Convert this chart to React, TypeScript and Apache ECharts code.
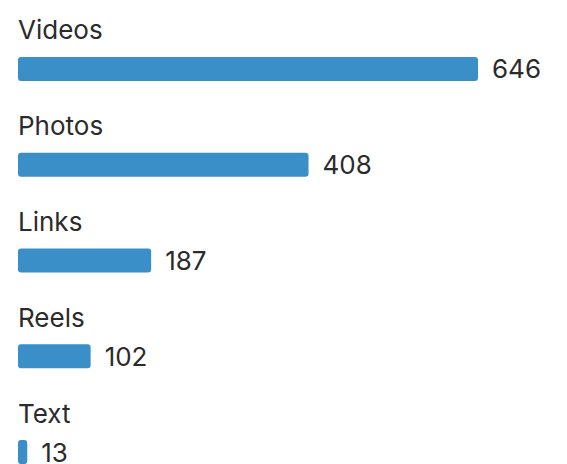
import React, { useEffect, useRef } from "react";
import * as echarts from "echarts";

const categories = ["Videos", "Photos", "Links", "Reels", "Text"];
const values = [646, 408, 187, 102, 13];

export default function App() {
  const ref = useRef<HTMLDivElement>(null);
  useEffect(() => {
    if (!ref.current) return;
    const chart = echarts.init(ref.current, undefined, { renderer: "svg" });
    chart.setOption({
      animation: false,
      backgroundColor: "#ffffff",
      textStyle: { fontFamily: "Inter" },
      grid: {
        left: 18,
        top: 21,
        width: 460,
        height: 479,
        containLabel: false,
        outerBoundsMode: "none",
      },
      xAxis: {
        type: "value",
        min: 0,
        max: 646,
        show: false,
      },
      yAxis: {
        type: "category",
        data: categories,
        inverse: true,
        axisLine: { show: false },
        axisTick: { show: false },
        splitLine: { show: false },
        axisLabel: {
          inside: true,
          margin: 0,
          align: "left",
          verticalAlign: "bottom",
          padding: [0, 0, 26, 0],
          fontSize: 26,
          color: "#2b2b2b",
          fontFamily: "Inter",
        },
      },
      series: [
        {
          type: "bar",
          data: values,
          barWidth: 24,
          itemStyle: { color: "#3b8fc9", borderRadius: 3 },
          label: {
            show: true,
            position: "right",
            distance: 14,
            fontSize: 26,
            color: "#2b2b2b",
            fontFamily: "Inter",
          },
        },
      ],
    });
    return () => chart.dispose();
  }, []);
  return (
    <div
      ref={ref}
      style={{ position: "fixed", left: 0, top: 0, width: 567, height: 464 }}
    />
  );
}
